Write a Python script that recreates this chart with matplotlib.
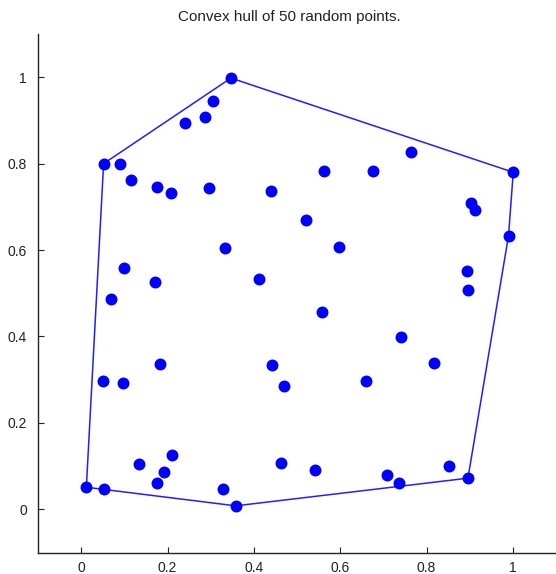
import numpy as np
import matplotlib
matplotlib.use("Agg")
import matplotlib.pyplot as plt

# ============================================================
# DATA
# ============================================================

x_pts = [0.052, 0.090, 0.116, 0.176, 0.208, 0.296, 0.241, 0.286, 0.305, 0.347,
         0.440, 0.333, 0.100, 0.172, 0.411, 0.764, 0.562, 0.675, 1.001, 0.904,
         0.912, 0.522, 0.597, 0.990, 0.893, 0.896, 0.558, 0.742, 0.818, 0.661,
         0.442, 0.469, 0.464, 0.541, 0.708, 0.736, 0.853, 0.896, 0.069, 0.051,
         0.097, 0.183, 0.134, 0.211, 0.193, 0.176, 0.329, 0.358, 0.012, 0.054]
y_pts = [0.800, 0.800, 0.761, 0.747, 0.733, 0.743, 0.893, 0.908, 0.944, 0.998,
         0.736, 0.604, 0.558, 0.525, 0.534, 0.826, 0.783, 0.783, 0.780, 0.710,
         0.693, 0.669, 0.608, 0.633, 0.551, 0.508, 0.457, 0.398, 0.339, 0.297,
         0.333, 0.285, 0.107, 0.090, 0.079, 0.061, 0.100, 0.072, 0.486, 0.297,
         0.293, 0.336, 0.104, 0.125, 0.086, 0.060, 0.046, 0.008, 0.051, 0.046]

# hull vertex indices, closed loop
hull_idx = [48, 47, 37, 23, 18, 9, 0, 48]

x_ticks = [0, 0.2, 0.4, 0.6, 0.8, 1]
y_ticks = [0, 0.2, 0.4, 0.6, 0.8, 1]
tick_labels = ["0", "0.2", "0.4", "0.6", "0.8", "1"]

TITLE = "Convex hull of 50 random points."

# ============================================================
# PLOT
# ============================================================

plt.rcParams["font.family"] = ["Liberation Sans", "DejaVu Sans"]

fig = plt.figure(figsize=(5.56, 5.74), dpi=100)
ax = fig.add_axes([38 / 556, 21.5 / 574, 518 / 556, 518.5 / 574])

x = np.array(x_pts)
y = np.array(y_pts)

ax.plot(x[hull_idx], y[hull_idx], color="#1f1fff", linewidth=1.1)
ax.plot(x, y, linestyle="none", marker="o", markersize=8.6,
        markerfacecolor="#0000ff", markeredgecolor="#0000ff", markeredgewidth=0)

ax.set_xlim(-0.1, 1.1)
ax.set_ylim(-0.1, 1.1)
ax.set_xticks(x_ticks)
ax.set_xticklabels(tick_labels)
ax.set_yticks(y_ticks)
ax.set_yticklabels(tick_labels)

ax.spines["top"].set_visible(False)
ax.spines["right"].set_visible(False)
for s in ["left", "bottom"]:
    ax.spines[s].set_linewidth(1.0)
    ax.spines[s].set_color("#222222")

ax.tick_params(axis="both", direction="in", length=4, width=0.8,
               labelsize=10, colors="#222222")
ax.tick_params(axis="x", pad=6)
ax.tick_params(axis="y", pad=8)

fig.text(289.5 / 556, 1 - 17 / 574, TITLE, ha="center", va="center",
         fontsize=11, color="#222222")

fig.savefig("out.png", dpi=100)
